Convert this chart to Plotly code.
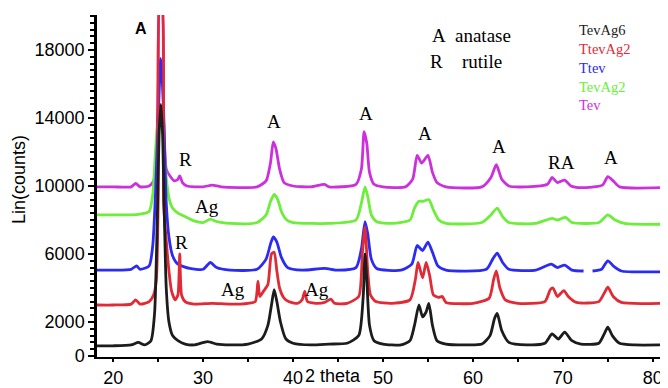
import plotly.graph_objects as go

# ---------------- data (2 theta in degrees, counts) ----------------
tevag6_x = [18.2, 20, 22, 22.8, 23.5, 24.2, 24.6, 24.9, 25.1, 25.3, 25.5, 25.7, 25.9, 26.2, 26.6, 27.2, 28, 29,
            30.5, 31.5, 33, 35, 36.5, 37.2, 37.6, 37.9, 38.2, 38.6, 39.2, 40, 42, 44, 46, 47.3, 47.8, 48.0, 48.2,
            48.5, 49, 50, 52, 53, 53.5, 54, 54.4, 54.8, 55.1, 55.5, 56, 57, 59, 61, 61.9, 62.4, 62.7, 63.2, 64, 66,
            68, 68.8, 69.5, 70.2, 71, 72, 74, 74.6, 75.0, 75.5, 76.3, 78, 80.8]
tevag6_y = [600, 600, 650, 800, 650, 900, 2500, 8000, 13000, 14800, 13000, 8000, 4000, 2000, 1200, 900, 700, 650,
            850, 700, 650, 700, 1000, 1800, 3000, 3900, 3200, 2000, 1000, 750, 650, 700, 750, 1200, 3500, 6000, 4500,
            1800, 900, 700, 650, 900, 1800, 3000, 2300, 2600, 3100, 1800, 900, 700, 650, 700, 1200, 2200, 2500, 1500,
            800, 650, 750, 1300, 1000, 1400, 900, 700, 750, 1300, 1700, 1200, 750, 650, 650]

ttevag2_x = [18.2, 20, 22, 22.5, 23, 24, 24.5, 24.8, 25.0, 25.2, 25.4, 25.6, 25.9, 26.2, 26.5, 26.9, 27.2, 27.4,
             27.6, 28, 29, 31, 33, 35, 35.8, 36.1, 36.3, 36.7, 37.2, 37.6, 37.9, 38.2, 38.5, 39, 39.5, 40.5, 41.0,
             41.3, 41.6, 42.5, 43.5, 44.2, 44.6, 46, 47.3, 47.7, 48.0, 48.3, 48.6, 49.2, 51, 53, 53.6, 53.9, 54.4,
             54.8, 55.2, 55.6, 56.2, 56.6, 57, 60, 61.8, 62.3, 62.6, 63, 63.6, 65, 68, 68.6, 68.9, 69.4, 70.1, 70.6,
             71.5, 74, 74.7, 75.0, 75.6, 76.5, 80.8]
ttevag2_y = [3000, 3000, 3050, 3300, 3050, 3200, 3600, 4500, 9000, 21000, 21000, 9000, 6800, 5000, 3800, 3300, 3600,
             6000, 3600, 3200, 3050, 3100, 3050, 3100, 3200, 4400, 3500, 3800, 4200, 6000, 6100, 5000, 4000, 3400,
             3200, 3100, 3300, 3800, 3200, 3100, 3150, 3350, 3100, 3100, 3500, 6000, 7600, 5000, 3600, 3200, 3100,
             3300, 4500, 5500, 4600, 5500, 4700, 3600, 3450, 3500, 3150, 3100, 3400, 4500, 5000, 4000, 3300, 3100,
             3200, 3900, 4000, 3500, 3850, 3500, 3150, 3200, 3800, 4050, 3500, 3150, 3100]

ttev_x = [18.2, 20, 22, 22.6, 23, 24, 24.4, 24.7, 25.0, 25.3, 25.6, 25.9, 26.2, 26.6, 27.2, 28.5, 30, 30.8, 31.5,
          33, 36, 37, 37.5, 37.8, 38.2, 38.7, 39.4, 41, 43.5, 45, 47, 47.6, 48.0, 48.3, 48.7, 49.3, 52, 53.2, 53.8,
          54.4, 55.0, 55.5, 56.1, 57, 61.5, 62.2, 62.7, 63.3, 64, 67, 68.7, 69.4, 70.2, 71, 72.3, 72.6, 73.3, 74.3,
          75.0, 75.7, 76.5, 80.8]
ttev_y = [5050, 5050, 5100, 5300, 5100, 5300, 6500, 9500, 14000, 17500, 14500, 9000, 7000, 5900, 5400, 5150, 5100,
          5500, 5200, 5050, 5100, 5700, 6600, 7000, 6700, 5800, 5200, 5050, 5150, 5050, 5200, 6300, 7900, 7200, 5700,
          5150, 5050, 5400, 6500, 6200, 6700, 6100, 5300, 5050, 5100, 5700, 6050, 5500, 5100, 5050, 5400, 5200, 5350,
          5050, 5000, None, 5000, 5100, 5600, 5250, 5000, 4950]

tevag2_x = [18.2, 20, 22, 23, 24, 24.4, 24.7, 25.0, 25.3, 25.6, 25.9, 26.2, 26.6, 27.2, 28, 29, 30, 30.8, 31.5, 33,
            36, 37, 37.5, 37.9, 38.3, 38.7, 39.3, 40, 44, 47, 47.6, 48.0, 48.3, 48.7, 49.3, 51, 53, 53.5, 54.0, 54.5,
            55.1, 55.6, 56.2, 57, 61, 62, 62.7, 63.3, 64, 67, 68.8, 69.4, 70.3, 71, 74, 75, 75.8, 77, 80.8]
tevag2_y = [8300, 8300, 8300, 8350, 8500, 9500, 12000, 13700, 13900, 12500, 10500, 9300, 8700, 8400, 8200, 7950,
            7850, 8050, 7900, 7800, 7850, 8300, 9100, 9500, 9200, 8500, 8000, 7850, 7800, 8000, 9000, 9950, 9400, 8300,
            7900, 7800, 8000, 8700, 9100, 9100, 9200, 8600, 8000, 7800, 7850, 8300, 8700, 8200, 7850, 7800, 8100,
            8000, 8150, 7850, 7850, 8300, 8000, 7780, 7750]

tev_x = [18.2, 20, 22, 22.5, 23, 24, 24.5, 24.8, 25.0, 25.2, 25.4, 25.6, 25.9, 26.3, 26.8, 27.2, 27.4, 27.7, 28.2,
         30, 31, 32, 36, 37, 37.5, 37.8, 38.1, 38.5, 39, 40, 42, 43.5, 44, 47, 47.6, 47.9, 48.2, 48.5, 49, 50, 52.5,
         53.3, 53.8, 54.3, 55.0, 55.5, 56, 57, 61, 62, 62.6, 63.2, 64, 66, 68.3, 68.8, 69.4, 70.2, 70.9, 72, 74.4,
         75.0, 75.6, 76.3, 80.8]
tev_y = [9950, 9950, 9950, 10150, 9950, 10000, 10300, 11800, 16000, 21000, 21000, 14000, 11000, 10600, 10300, 10400,
         10600, 10200, 10000, 9950, 10050, 9950, 9950, 10300, 11400, 12600, 12200, 11000, 10200, 10000, 9950, 10100,
         9950, 10100, 11000, 13200, 12500, 10800, 10100, 9950, 9950, 10400, 11800, 11350, 11800, 10800, 10200, 9950,
         9950, 10500, 11250, 10400, 10000, 9950, 10100, 10500, 10200, 10350, 10000, 9900, 10050, 10550, 10300, 9950,
         9900]

series_names = ["TevAg6", "TtevAg2", "Ttev", "TevAg2", "Tev"]
series_colors = ["#1c1c1c", "#e02a36", "#2b2bf2", "#6cee3a", "#cc30dc"]

y_tickvals = [0, 2000, 6000, 10000, 14000, 18000]
y_ticktext = ["0", "2000", "6000", "10000", "14000", "18000"]
x_tickvals = [20, 30, 40, 50, 60, 70, 80]

# peak labels: (text, 2theta, counts)
peak_labels = [("R", 28.0, 11530), ("Ag", 30.4, 8820), ("R", 27.6, 6700), ("Ag", 33.3, 3940),
               ("Ag", 42.7, 3940), ("A", 37.9, 13820), ("A", 48.1, 14240), ("A", 54.7, 13060),
               ("A", 62.9, 12350), ("RA", 69.8, 11410), ("A", 75.3, 11650)]

# ---------------- figure ----------------
fig = go.Figure()
order = [("Tev", tev_x, tev_y), ("TevAg2", tevag2_x, tevag2_y), ("Ttev", ttev_x, ttev_y),
         ("TtevAg2", ttevag2_x, ttevag2_y), ("TevAg6", tevag6_x, tevag6_y)]
for name, xs, ys in order:
    c = series_colors[series_names.index(name)]
    fig.add_trace(go.Scatter(x=xs, y=ys, mode="lines", name=name,
                             line=dict(color=c, width=2.8, shape="spline", smoothing=0.6),
                             connectgaps=False, showlegend=False))

serif = "Liberation Serif"
for txt, xv, yv in peak_labels:
    fig.add_annotation(x=xv, y=yv, text=txt, showarrow=False, xref="x", yref="y",
                       xanchor="center", yanchor="middle",
                       font=dict(family=serif, size=19, color="black"))
fig.add_annotation(x=23.1, y=19290, text="<b>A</b>", showarrow=False, xanchor="center", yanchor="middle",
                   font=dict(family="Liberation Sans Narrow, Liberation Sans", size=16, color="black"))

# plot area in page pixels (page has an 8px body margin)
OFF = 8
L, R, T, B = 97, 660, 15, 357
def px(x):
    return (x - L) / (R - L)
def py(y):
    return (B - y) / (B - T)

for txt, x0, y0 in [("A", 430, 36), ("anatase", 453, 36), ("R", 428, 61), ("rutile", 460, 61)]:
    fig.add_annotation(xref="paper", yref="paper", x=px(x0), y=py(y0), xanchor="left", yanchor="middle",
                       text=txt, showarrow=False, font=dict(family=serif, size=19, color="black"))

legend_html = "<br>".join(f'<span style="color:{c}">{n}</span>' for n, c in zip(series_names, series_colors))
fig.add_annotation(xref="paper", yref="paper", x=px(577), y=py(68), xanchor="left", yanchor="middle",
                   text=legend_html, align="left", showarrow=False,
                   font=dict(family=serif, size=14.5, color="black"))

fig.add_annotation(xref="paper", yref="paper", x=px(333), y=py(376), text="2 theta", showarrow=False,
                   xanchor="center", yanchor="middle", font=dict(family="Liberation Sans", size=18, color="black"))
fig.add_annotation(xref="paper", yref="paper", x=px(19), y=py(180), text="Lin(counts)", showarrow=False,
                   xanchor="center", yanchor="middle", textangle=-90,
                   font=dict(family="Liberation Sans", size=18, color="black"))

W, H = 668, 388
fig.update_layout(
    width=W, height=H,
    margin=dict(l=L - OFF, r=W - (R - OFF), t=T - OFF, b=H - (B - OFF), autoexpand=False),
    paper_bgcolor="white", plot_bgcolor="white",
    showlegend=False,
)
fig.update_xaxes(range=[18.2, 80.8], tickvals=x_tickvals, showgrid=False, zeroline=False, automargin=False,
                 showline=True, linecolor="black", linewidth=2, ticks="outside", ticklen=3, tickwidth=2,
                 tickcolor="black", minor=dict(dtick=5, tick0=0, ticks="outside", ticklen=3, tickwidth=2,
                                               tickcolor="black", showgrid=False),
                 tickfont=dict(family="Liberation Sans", size=18, color="black"))
fig.update_yaxes(range=[-60, 20060], tickvals=y_tickvals, ticktext=y_ticktext, showgrid=False, zeroline=False,
                 automargin=False,
                 showline=True, linecolor="black", linewidth=2.5, ticks="outside", ticklen=6, tickwidth=2,
                 tickcolor="black", minor=dict(dtick=400, tick0=0, ticks="outside", ticklen=4, tickwidth=2,
                                               tickcolor="black", showgrid=False),
                 tickfont=dict(family="Liberation Sans", size=18, color="black"))

fig.write_html("out.html")
